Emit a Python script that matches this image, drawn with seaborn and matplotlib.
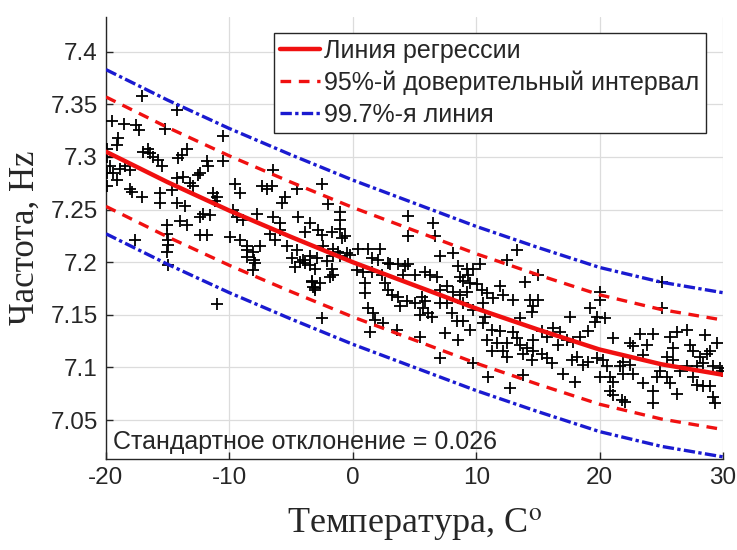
import matplotlib
matplotlib.use("Agg")
import matplotlib.pyplot as plt
import seaborn as sns
import numpy as np

# ---- data ----
temp = [
    -17.11, -14.27, -10.49, -19.54, -18.54, -17.57, -17.30, -15.22, -19.00, -19.14,
    -19.95, -19.90, -16.97, -16.57, -16.43, -16.16, -15.76, -15.49, -14.14, -13.87,
    -13.46, -11.84, -11.71, -10.49, -12.52, -19.68, -19.41, -18.87, -18.46, -18.05,
    -19.95, -19.14, -18.05, -17.92, -17.11, -15.62, -14.68, -14.27, -13.73, -13.19,
    -12.92, -12.38, -11.30, -11.03, -9.55, -9.14, -7.39, -6.98, -6.57, -6.44,
    -5.49, -5.76, -4.55, -15.62, -14.27, -13.60, -12.38, -14.00, -13.46, -12.11,
    -11.57, -11.17, -9.68, -9.41, -8.87, -7.79, -6.44, -5.90, -4.41, -15.08,
    -15.08, -15.08, -17.65, -12.38, -11.84, -9.95, -9.14, -8.60, -8.06, -8.60,
    -7.52, -6.71, -6.30, -5.90, -5.36, -4.55, -19.90, -14.98, -14.98, -14.98,
    -11.00, -7.93, -8.09, -4.68, -3.31, -3.23, -3.06, -3.47, -8.60, -8.00,
    -4.93, -4.28,
    -2.52, -1.98, -1.04, -1.04, -3.47, -3.87, -2.79, -2.52, -1.71, -1.04,
    -0.63, -0.90, -2.39, -1.58, -1.17, -0.50, -0.23, -4.01, -3.47, -2.93,
    -2.12, -1.58, -1.04, -3.87, -3.06, -1.71, -1.85, -1.58, -3.33, -3.06,
    -2.66, -2.52, 0.45, 1.26, 2.20, 1.53, 2.07, 2.88, 0.99, 0.99,
    0.31, 0.85, 1.53, 2.34, 3.01, 3.69, 4.23, 4.50, 4.09, 5.04,
    5.85, 6.26, 6.80, 7.07, 8.15, 8.55, 9.23, 9.36, 8.69, 9.77,
    10.31, 8.96, 9.50, 10.04, 10.45, 10.85, 11.39, 11.94, 12.21, 12.48,
    13.29, 2.61, 2.88, 3.15, 3.69, 3.83, 4.37, 5.04, 5.58, 5.85,
    5.72, 6.12, 6.39, 5.45, 7.07, 7.61, 8.01, 7.07, 7.61, 8.15,
    8.69, 9.23, 8.96, 9.77, 10.58, 10.72, 10.58, 11.26, 11.66, 12.48,
    13.02, 10.85, 8.42, 8.96, 9.50, 7.47, 8.55, 1.67, 1.26, 1.80,
    1.39, 2.47, 3.55, 4.50, 4.50, 6.53, 6.66,
    5.45, 11.26, 12.20, 7.07, 9.77, 10.99,
    13.96, 15.04, 13.01, 14.36, 14.63, 15.04, 14.50, 17.60, 19.22, 20.03,
    20.03, 19.76, 20.44, 19.63, 19.09, 13.55, 11.93, 13.28, 14.63, 15.71,
    15.31, 16.25, 16.79, 17.33, 17.87, 18.41, 16.66, 12.47, 13.55, 13.82,
    14.09, 14.63, 15.31, 15.71, 16.12, 14.50, 17.06, 17.74, 18.14, 18.68,
    19.09, 18.01, 13.82, 12.74, 19.76, 20.30, 21.11, 22.46, 23.28, 24.36,
    23.82, 22.73, 23.55, 21.92, 21.65, 20.57, 20.03, 20.84, 21.11, 20.84,
    21.92, 22.46, 22.73, 23.55, 24.36, 24.63, 24.90, 25.44, 25.98, 26.25,
    27.06, 25.71, 27.33, 27.60, 28.14, 28.68, 28.95, 29.49, 28.54, 25.98,
    26.52, 27.06, 27.87, 28.41, 29.22, 29.76, 29.95, 25.44, 25.71, 26.25,
    27.60, 27.87, 28.41, 28.95, 29.22, 29.35, 24.36, 25.03, 25.03, 21.79,
    22.06, 21.11,
]
freq = [
    7.358, 7.345, 7.320, 7.334, 7.331, 7.330, 7.326, 7.327, 7.318, 7.311,
    7.308, 7.300, 7.305, 7.308, 7.304, 7.300, 7.297, 7.291, 7.299, 7.302,
    7.308, 7.296, 7.291, 7.296, 7.283, 7.291, 7.285, 7.289, 7.291, 7.288,
    7.272, 7.278, 7.270, 7.267, 7.262, 7.266, 7.269, 7.280, 7.281, 7.275,
    7.272, 7.285, 7.266, 7.262, 7.274, 7.266, 7.272, 7.270, 7.272, 7.288,
    7.262, 7.256, 7.270, 7.256, 7.256, 7.253, 7.243, 7.239, 7.235, 7.246,
    7.245, 7.258, 7.250, 7.243, 7.240, 7.246, 7.243, 7.237, 7.243, 7.235,
    7.227, 7.210, 7.221, 7.226, 7.226, 7.224, 7.221, 7.212, 7.210, 7.215,
    7.215, 7.227, 7.221, 7.231, 7.215, 7.212, 7.285, 7.221, 7.216, 7.197,
    7.160, 7.199, 7.193, 7.195, 7.181, 7.176, 7.174, 7.197, 7.205, 7.202,
    7.204, 7.200,
    7.274, 7.255, 7.248, 7.240, 7.237, 7.229, 7.231, 7.226, 7.229, 7.232,
    7.225, 7.223, 7.215, 7.213, 7.210, 7.209, 7.207, 7.202, 7.206, 7.204,
    7.201, 7.206, 7.206, 7.199, 7.194, 7.194, 7.186, 7.188, 7.182, 7.175,
    7.180, 7.147, 7.213, 7.213, 7.213, 7.204, 7.202, 7.199, 7.180, 7.171,
    7.193, 7.191, 7.191, 7.188, 7.198, 7.198, 7.196, 7.198, 7.188, 7.188,
    7.191, 7.188, 7.186, 7.206, 7.209, 7.196, 7.194, 7.188, 7.186, 7.194,
    7.198, 7.182, 7.180, 7.179, 7.174, 7.171, 7.166, 7.177, 7.169, 7.202,
    7.212, 7.180, 7.174, 7.169, 7.167, 7.158, 7.163, 7.161, 7.167, 7.163,
    7.156, 7.152, 7.148, 7.150, 7.161, 7.161, 7.152, 7.174, 7.177, 7.172,
    7.169, 7.172, 7.161, 7.155, 7.161, 7.148, 7.142, 7.136, 7.123, 7.123,
    7.134, 7.126, 7.144, 7.144, 7.136, 7.133, 7.126, 7.152, 7.156, 7.145,
    7.134, 7.142, 7.136, 7.244, 7.225, 7.237, 7.225,
    7.129, 7.116, 7.116, 7.109, 7.104, 7.091,
    7.181, 7.188, 7.164, 7.164, 7.158, 7.164, 7.153, 7.148, 7.156, 7.172,
    7.164, 7.148, 7.147, 7.143, 7.135, 7.147, 7.135, 7.128, 7.126, 7.129,
    7.135, 7.137, 7.134, 7.126, 7.124, 7.129, 7.121, 7.110, 7.121, 7.113,
    7.118, 7.116, 7.113, 7.109, 7.104, 7.107, 7.094, 7.107, 7.110, 7.102,
    7.105, 7.086, 7.093, 7.080, 7.109, 7.107, 7.128, 7.123, 7.132, 7.132,
    7.121, 7.120, 7.112, 7.105, 7.101, 7.101, 7.091, 7.091, 7.086, 7.078,
    7.094, 7.102, 7.094, 7.085, 7.078, 7.091, 7.097, 7.110, 7.118, 7.134,
    7.136, 7.129, 7.121, 7.116, 7.110, 7.113, 7.116, 7.123, 7.131, 7.107,
    7.097, 7.101, 7.101, 7.104, 7.101, 7.099, 7.097, 7.091, 7.085, 7.075,
    7.091, 7.083, 7.082, 7.082, 7.072, 7.066, 7.066, 7.181, 7.156, 7.069,
    7.067, 7.074,
]

reg_t = [-20, -15, -10, -5, 0, 5, 10, 15, 20, 25, 30]
reg_f = [7.305, 7.276, 7.249, 7.224, 7.200, 7.178, 7.156, 7.136, 7.117, 7.103, 7.093]
std_dev = 0.026

legend_labels = ["Линия регрессии", "95%-й доверительный интервал", "99.7%-я линия"]
std_text = "Стандартное отклонение = 0.026"
x_label = "Температура, C$^\\mathrm{o}$"
y_label = "Частота, Hz"
x_ticks = [-20, -10, 0, 10, 20, 30]
y_ticks = [7.05, 7.1, 7.15, 7.2, 7.25, 7.3, 7.35, 7.4]
y_tick_labels = ["7.05", "7.1", "7.15", "7.2", "7.25", "7.3", "7.35", "7.4"]

# ---- styling ----
sns.set_theme(style="whitegrid")
plt.rcParams["font.family"] = ["Liberation Sans", "DejaVu Sans"]
plt.rcParams["mathtext.fontset"] = "stix"

RED = "#f01010"
BLUE = "#1a1ad0"
TXT = "#262626"

fig = plt.figure(figsize=(7.37, 5.5), dpi=100)
ax = fig.add_axes([0.1438, 0.1655, 0.8372, 0.8036])
ax.set_facecolor("white")

reg_arr = np.array(reg_f)
sns.scatterplot(x=temp, y=freq, marker="+", color="black", s=80, linewidth=1.3,
                ax=ax, legend=False, zorder=3)
sns.lineplot(x=reg_t, y=reg_arr, color=RED, lw=3.2, ax=ax, label=legend_labels[0], zorder=4)
sns.lineplot(x=reg_t, y=reg_arr + 2 * std_dev, color=RED, lw=2.4, ax=ax,
             linestyle=(0, (3.2, 2.3)), label=legend_labels[1], zorder=4)
sns.lineplot(x=reg_t, y=reg_arr - 2 * std_dev, color=RED, lw=2.4, ax=ax,
             linestyle=(0, (3.2, 2.3)), zorder=4)
sns.lineplot(x=reg_t, y=reg_arr + 3 * std_dev, color=BLUE, lw=2.4, ax=ax,
             linestyle=(0, (3.4, 1.0, 1.0, 1.0)), label=legend_labels[2], zorder=4)
sns.lineplot(x=reg_t, y=reg_arr - 3 * std_dev, color=BLUE, lw=2.4, ax=ax,
             linestyle=(0, (3.4, 1.0, 1.0, 1.0)), zorder=4)

ax.set_xlim(-20, 30)
ax.set_ylim(7.013, 7.433)
ax.set_xticks(x_ticks)
ax.set_xticklabels([str(t) for t in x_ticks])
ax.set_yticks(y_ticks)
ax.set_yticklabels(y_tick_labels)
ax.grid(True, color="#dcdcdc", linewidth=0.9)
ax.tick_params(axis="both", direction="in", length=5, width=1, colors=TXT,
               labelsize=17.5, pad=6, left=True, bottom=True)
for s in ["top", "right"]:
    ax.spines[s].set_visible(False)
for s in ["left", "bottom"]:
    ax.spines[s].set_color(TXT)
    ax.spines[s].set_linewidth(1.0)

ax.set_xlabel(x_label, family=["Liberation Serif", "DejaVu Serif"], fontsize=26,
              color=TXT, labelpad=12)
ax.set_ylabel(y_label, family=["Liberation Serif", "DejaVu Serif"], fontsize=25,
              color=TXT, labelpad=6)

ax.text(0.011, 0.012, std_text, transform=ax.transAxes, ha="left", va="bottom",
        fontsize=18, color=TXT)

leg = ax.legend(loc="upper right", bbox_to_anchor=(0.972, 0.964), borderaxespad=0,
                fontsize=18, frameon=True, fancybox=False, handlelength=1.6,
                handletextpad=0.15, borderpad=0.25, labelspacing=0.3)
leg.get_frame().set_edgecolor(TXT)
leg.get_frame().set_linewidth(1.0)
leg.get_frame().set_alpha(1.0)
for t in leg.get_texts():
    t.set_color(TXT)

fig.savefig("out.png", dpi=100, facecolor="white")
